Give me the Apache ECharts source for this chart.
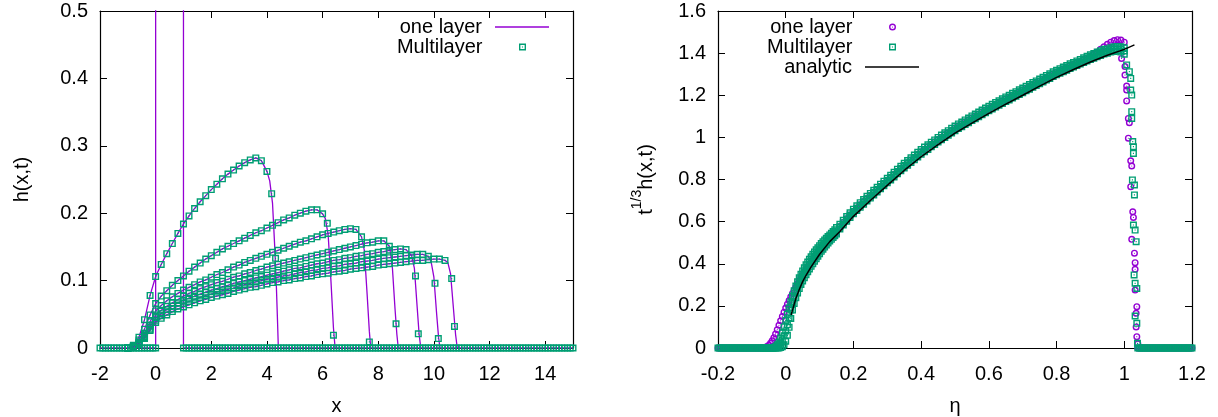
<!DOCTYPE html>
<html>
<head>
<meta charset="utf-8">
<script src="https://cdn.jsdelivr.net/npm/echarts@6/dist/echarts.min.js"></script>
<style>
  html, body { margin: 0; padding: 0; background: #fff; }
  #chart { width: 1218px; height: 417px; }
</style>
</head>
<body>
<div id="chart"></div>
<script>
// ---------------- Left panel: h(x,t) at successive times ----------------
// shared x positions of the profile samples
const xGrid = [-1,-0.8,-0.6,-0.4,-0.2,0,0.2,0.4,0.6,0.8,1,1.2,1.4,1.6,1.8,2,2.2,2.4,2.6,2.8,3,3.2,3.4,3.6,3.8,4,4.2,4.4,4.6,4.8,5,5.2,5.4,5.6,5.8,6,6.2,6.4,6.6,6.8,7,7.2,7.4,7.6,7.8,8,8.2,8.4,8.6,8.8,9,9.2,9.4,9.6,9.8,10,10.2,10.4,10.6];

// film height of each profile on xGrid (up to just behind its front)
const h1 = [0,0.004,0.016,0.042,0.078,0.106,0.124,0.140,0.155,0.170,0.184,0.196,0.207,0.217,0.226,0.235,0.243,0.251,0.258,0.264,0.270,0.275,0.279,0.282,0.278,0.262];
const h2 = [0,0.003,0.012,0.028,0.049,0.066,0.077,0.085,0.093,0.100,0.107,0.114,0.120,0.126,0.132,0.137,0.142,0.147,0.151,0.155,0.159,0.163,0.167,0.171,0.174,0.178,0.182,0.186,0.190,0.193,0.197,0.200,0.203,0.205,0.205,0.199];
const h3 = [0,0.002,0.009,0.022,0.039,0.055,0.063,0.070,0.076,0.081,0.086,0.090,0.094,0.098,0.101,0.105,0.109,0.112,0.116,0.120,0.123,0.127,0.130,0.133,0.136,0.139,0.142,0.145,0.148,0.151,0.154,0.157,0.159,0.162,0.165,0.168,0.170,0.172,0.174,0.176,0.177,0.176,0.165];
const h4 = [0,0.002,0.008,0.019,0.034,0.049,0.056,0.062,0.067,0.072,0.077,0.081,0.084,0.088,0.091,0.094,0.097,0.099,0.102,0.105,0.107,0.110,0.112,0.115,0.117,0.120,0.122,0.124,0.126,0.128,0.130,0.132,0.134,0.136,0.138,0.140,0.142,0.144,0.146,0.148,0.150,0.152,0.154,0.156,0.157,0.159,0.159,0.151];
const h5 = [0,0.002,0.007,0.017,0.031,0.045,0.051,0.057,0.062,0.067,0.071,0.074,0.077,0.080,0.083,0.086,0.088,0.091,0.093,0.096,0.098,0.100,0.102,0.104,0.106,0.108,0.110,0.112,0.114,0.116,0.118,0.119,0.121,0.123,0.125,0.126,0.128,0.130,0.131,0.133,0.134,0.136,0.137,0.139,0.140,0.142,0.143,0.145,0.146,0.147,0.146,0.137];
const h6 = [0,0.002,0.006,0.015,0.028,0.041,0.048,0.053,0.058,0.062,0.066,0.069,0.072,0.075,0.078,0.080,0.083,0.085,0.087,0.089,0.092,0.094,0.096,0.098,0.100,0.102,0.103,0.105,0.107,0.108,0.110,0.112,0.113,0.115,0.116,0.118,0.119,0.121,0.122,0.124,0.125,0.126,0.128,0.129,0.130,0.132,0.133,0.134,0.135,0.136,0.137,0.138,0.139,0.139,0.136];
const h7 = [0,0.001,0.005,0.014,0.026,0.038,0.044,0.049,0.054,0.058,0.061,0.064,0.067,0.070,0.072,0.075,0.077,0.079,0.081,0.084,0.086,0.088,0.090,0.091,0.093,0.095,0.097,0.098,0.100,0.101,0.103,0.104,0.106,0.107,0.109,0.110,0.111,0.113,0.114,0.115,0.117,0.118,0.119,0.120,0.121,0.123,0.124,0.125,0.126,0.127,0.128,0.129,0.130,0.130,0.131,0.132,0.132,0.130];

// steep fronts: one-layer solution (continuous line) and multilayer samples
const oneLayerFronts = [
  [[4.1,0.248],[4.2,0.215],[4.28,0.15],[4.34,0.09],[4.38,0.04],[4.41,0]],
  [[6.1,0.192],[6.2,0.168],[6.3,0.10],[6.39,0.03],[6.45,0]],
  [[7.5,0.145],[7.6,0.08],[7.68,0.025],[7.73,0]],
  [[8.5,0.125],[8.6,0.06],[8.67,0.02],[8.72,0]],
  [[9.3,0.118],[9.4,0.06],[9.47,0.02],[9.53,0]],
  [[9.9,0.128],[10.0,0.105],[10.1,0.05],[10.17,0.015],[10.22,0]],
  [[10.5,0.127],[10.6,0.11],[10.7,0.06],[10.78,0.02],[10.84,0]]
];
const multiFronts = [
  [[4.17,0.229],[4.31,0.133]],
  [[6.17,0.185],[6.39,0.019]],
  [[7.68,0.009]],
  [[8.64,0.036]],
  [[9.34,0.107],[9.44,0.021]],
  [[10.04,0.096],[10.16,0.014]],
  [[10.64,0.103],[10.74,0.032]]
];
// initial column (one layer) and dry-bed samples of the multilayer run
const initialColumn = [[-2,0],[0,0],[0,1],[1,1],[1,0],[15,0]];
const dryX = [-2,-1.9,-1.8,-1.7,-1.6,-1.5,-1.4,-1.3,-1.2,-1.1,-1,-0.9,-0.8,-0.7,-0.6,-0.5,-0.4,-0.3,-0.2,-0.1,0,
  1,1.1,1.2,1.3,1.4,1.5,1.6,1.7,1.8,1.9,2,2.1,2.2,2.3,2.4,2.5,2.6,2.7,2.8,2.9,3,3.1,3.2,3.3,3.4,3.5,3.6,3.7,3.8,3.9,
  4,4.1,4.2,4.3,4.4,4.5,4.6,4.7,4.8,4.9,5,5.1,5.2,5.3,5.4,5.5,5.6,5.7,5.8,5.9,6,6.1,6.2,6.3,6.4,6.5,6.6,6.7,6.8,6.9,
  7,7.1,7.2,7.3,7.4,7.5,7.6,7.7,7.8,7.9,8,8.1,8.2,8.3,8.4,8.5,8.6,8.7,8.8,8.9,9,9.1,9.2,9.3,9.4,9.5,9.6,9.7,9.8,9.9,
  10,10.1,10.2,10.3,10.4,10.5,10.6,10.7,10.8,10.9,11,11.1,11.2,11.3,11.4,11.5,11.6,11.7,11.8,11.9,12,12.1,12.2,12.3,12.4,12.5,12.6,12.7,12.8,12.9,
  13,13.1,13.2,13.3,13.4,13.5,13.6,13.7,13.8,13.9,14,14.1,14.2,14.3,14.4,14.5,14.6,14.7,14.8,14.9,15];

// ---------------- Right panel: rescaled profiles t^(1/3) h vs eta ----------------
const etaBand = [-0.065,-0.06,-0.055,-0.05,-0.045,-0.04,-0.035,-0.03,-0.025,-0.02,-0.015,-0.01,-0.005,0,0.005,0.01,0.015,0.02,0.025,0.03,0.035,0.04,0.045,0.05,0.055,0.06,0.065,0.07,0.075,0.08,0.085,0.09,0.095,0.1,0.105,0.11,0.115,0.12,0.125,0.13,0.135,0.14,0.145,0.15,
  0.16,0.17,0.18,0.19,0.2,0.21,0.22,0.23,0.24,0.25,0.26,0.27,0.28,0.29,0.3,0.31,0.32,0.33,0.34,0.35,0.36,0.37,0.38,0.39,0.4,0.41,0.42,0.43,0.44,0.45,0.46,0.47,0.48,0.49,0.5,0.51,0.52,0.53,0.54,0.55,0.56,0.57,0.58,0.59,0.6,0.61,0.62,0.63,0.64,0.65,0.66,0.67,0.68,0.69,0.7,0.71,0.72,0.73,0.74,0.75,0.76,0.77,0.78,0.79,0.8,0.81,0.82,0.83,0.84,0.85,0.86,0.87,0.88,0.89,0.9,0.91,0.92,0.93,0.94,0.95,0.96,0.97,0.98,0.99,1];
const oneLayerBand = [0,0.003,0.007,0.013,0.022,0.034,0.049,0.067,0.087,0.108,0.129,0.150,0.170,0.190,0.208,0.226,0.243,0.259,0.275,0.290,0.305,0.319,0.333,0.346,0.359,0.371,0.383,0.395,0.406,0.417,0.428,0.438,0.448,0.458,0.468,0.477,0.486,0.495,0.504,0.513,0.522,0.530,0.538,0.546,
  0.577,0.596,0.614,0.632,0.649,0.665,0.680,0.695,0.710,0.724,0.739,0.753,0.768,0.782,0.796,0.810,0.824,0.839,0.853,0.867,0.880,0.893,0.906,0.919,0.932,0.944,0.955,0.967,0.978,0.990,1.001,1.012,1.022,1.033,1.044,1.054,1.063,1.073,1.082,1.092,1.101,1.110,1.120,1.129,1.138,1.147,1.156,1.164,1.173,1.182,1.190,1.199,1.207,1.216,1.224,1.233,1.241,1.250,1.258,1.267,1.275,1.284,1.292,1.301,1.309,1.316,1.324,1.331,1.339,1.346,1.353,1.360,1.368,1.375,1.385,1.395,1.405,1.418,1.430,1.442,1.452,1.460,1.464,1.462,1.452];
// multilayer collapse: lower edge, body and upper edge of the band
const multiBandLow = [0,0,0,0,0,0,0,0,0,0,0.002,0.006,0.015,0.032,0.060,0.098,0.140,0.180,0.211,0.238,0.261,0.282,0.301,0.318,0.334,0.348,0.362,0.375,0.388,0.400,0.412,0.424,0.436,0.448,0.459,0.469,0.479,0.489,0.499,0.508,0.516,0.525,0.533,0.541,
  0.565,0.584,0.602,0.620,0.637,0.653,0.668,0.683,0.698,0.712,0.727,0.741,0.756,0.770,0.784,0.798,0.812,0.827,0.841,0.855,0.868,0.881,0.894,0.907,0.920,0.932,0.943,0.955,0.966,0.978,0.989,1.000,1.010,1.021,1.032,1.042,1.051,1.061,1.070,1.080,1.089,1.098,1.108,1.117,1.126,1.135,1.144,1.152,1.161,1.170,1.178,1.187,1.195,1.204,1.212,1.221,1.229,1.238,1.246,1.255,1.263,1.272,1.280,1.289,1.297,1.304,1.312,1.319,1.327,1.334,1.341,1.348,1.356,1.363,1.370,1.376,1.383,1.389,1.396,1.400,1.405,1.408,1.410,1.405,1.395];
const multiBandMid = [0,0,0,0,0,0,0.001,0.003,0.008,0.015,0.025,0.039,0.058,0.081,0.110,0.144,0.180,0.214,0.242,0.266,0.288,0.308,0.326,0.342,0.358,0.372,0.385,0.398,0.411,0.423,0.434,0.445,0.456,0.467,0.478,0.487,0.496,0.505,0.514,0.523,0.531,0.539,0.548,0.557,
  0.576,0.595,0.613,0.631,0.648,0.664,0.679,0.694,0.709,0.723,0.738,0.752,0.767,0.781,0.795,0.809,0.823,0.838,0.852,0.866,0.879,0.892,0.905,0.918,0.931,0.943,0.954,0.966,0.977,0.989,1.000,1.011,1.021,1.032,1.043,1.053,1.062,1.072,1.081,1.091,1.100,1.109,1.119,1.128,1.137,1.146,1.155,1.163,1.172,1.181,1.189,1.198,1.206,1.215,1.223,1.232,1.240,1.249,1.257,1.266,1.274,1.283,1.291,1.300,1.308,1.315,1.323,1.330,1.338,1.345,1.352,1.359,1.367,1.374,1.381,1.387,1.394,1.400,1.407,1.410,1.415,1.419,1.421,1.418,1.410];
const multiBandHigh = [0,0,0,0,0,0,0.002,0.006,0.015,0.029,0.048,0.072,0.100,0.130,0.160,0.190,0.220,0.247,0.272,0.294,0.314,0.333,0.350,0.366,0.381,0.395,0.408,0.421,0.433,0.445,0.456,0.466,0.476,0.486,0.496,0.505,0.513,0.521,0.529,0.537,0.545,0.553,0.562,0.572,
  0.587,0.606,0.624,0.642,0.659,0.675,0.690,0.705,0.720,0.734,0.749,0.763,0.778,0.792,0.806,0.820,0.834,0.849,0.863,0.877,0.890,0.903,0.916,0.929,0.942,0.954,0.965,0.977,0.988,1.000,1.011,1.022,1.032,1.043,1.054,1.064,1.073,1.083,1.092,1.102,1.111,1.120,1.130,1.139,1.148,1.157,1.166,1.174,1.183,1.192,1.200,1.209,1.217,1.226,1.234,1.243,1.251,1.260,1.268,1.277,1.285,1.294,1.302,1.311,1.319,1.326,1.334,1.341,1.349,1.356,1.363,1.370,1.378,1.385,1.392,1.398,1.405,1.411,1.418,1.420,1.425,1.430,1.432,1.430,1.425];
// collapse of the front region
const oneLayerFront = [[0.992,1.375],[1.002,1.336],[1.002,1.296],[1.007,1.244],[1.007,1.225],[1.007,1.173],[1.012,1.09],[1.015,1.07],[1.012,0.996],[1.019,0.889],[1.022,0.864],[1.019,0.766],[1.025,0.647],[1.027,0.62],[1.022,0.516],[1.03,0.45],[1.032,0.405],[1.032,0.374],[1.032,0.275],[1.037,0.196],[1.035,0.165],[1.035,0.10],[1.037,0.054],[1.04,0.02]];
const multiFront = [[1.007,1.344],[1.015,1.312],[1.019,1.28],[1.019,1.225],[1.022,1.201],[1.022,1.122],[1.022,1.09],[1.025,0.98],[1.027,0.956],[1.027,0.924],[1.024,0.798],[1.03,0.774],[1.03,0.727],[1.027,0.584],[1.032,0.56],[1.035,0.505],[1.029,0.347],[1.032,0.307],[1.037,0.283],[1.032,0.152],[1.037,0.117],[1.039,0.022]];
const dryEta = [-0.2,-0.195,-0.19,-0.185,-0.18,-0.175,-0.17,-0.165,-0.16,-0.155,-0.15,-0.145,-0.14,-0.135,-0.13,-0.125,-0.12,-0.115,-0.11,-0.105,-0.1,-0.095,-0.09,-0.085,-0.08,-0.075,-0.07,
  1.04,1.045,1.05,1.055,1.06,1.065,1.07,1.075,1.08,1.085,1.09,1.095,1.1,1.105,1.11,1.115,1.12,1.125,1.13,1.135,1.14,1.145,1.15,1.155,1.16,1.165,1.17,1.175,1.18,1.185,1.19,1.195,1.2];
// similarity solution
const analyticEta = [0.016,0.02,0.03,0.04,0.05,0.06,0.075,0.1,0.13,0.16,0.2,0.25,0.3,0.35,0.4,0.45,0.5,0.55,0.6,0.65,0.7,0.75,0.8,0.85,0.9,0.95,1.0,1.03];
const analyticF = [0.157,0.18,0.235,0.278,0.315,0.345,0.385,0.445,0.505,0.553,0.625,0.70,0.772,0.843,0.908,0.966,1.020,1.068,1.114,1.158,1.200,1.243,1.285,1.322,1.358,1.390,1.418,1.439];

// ---------------- styling ----------------
const FONT = "'Liberation Sans', Arial, Helvetica, sans-serif";
const PURPLE = '#9400d3';
const GREEN = '#009e73';
// hollow square / circle with a centre dot
const SQUARE = 'path://M0,0H10V10H0Z M2,2V8H8V2Z M4.2,4.2H5.8V5.8H4.2Z';
const CIRCLE = 'path://M5,0A5,5,0,1,1,5,10A5,5,0,1,1,5,0Z M5,2A3,3,0,1,0,5,8A3,3,0,1,0,5,2Z M5,4.2A0.8,0.8,0,1,1,5,5.8A0.8,0.8,0,1,1,5,4.2Z';

const pairs = (xs, ys) => ys.map((y, i) => [xs[i], y]);
const profiles = [h1, h2, h3, h4, h5, h6, h7];

const axisLine = { show: true, onZero: false, lineStyle: { color: '#000', width: 1.2 } };
const axisTick = { show: true, inside: true, length: 7, lineStyle: { color: '#000', width: 1 } };
const label = { show: true, fontSize: 20, color: '#000', fontFamily: FONT, margin: 12 };
const nameStyle = { fontSize: 20, color: '#000', fontFamily: FONT };

function axis(extra) {
  return Object.assign({
    type: 'value', axisLine, axisTick,
    splitLine: { show: false }, minorTick: { show: false }
  }, extra);
}

const xAxis = [
  axis({ gridIndex: 0, position: 'bottom', min: -2, max: 15, interval: 2,
    axisLabel: Object.assign({}, label, { margin: 16, showMaxLabel: false }),
    name: 'x', nameLocation: 'middle', nameGap: 48, nameTextStyle: nameStyle }),
  axis({ gridIndex: 0, position: 'top', min: -2, max: 15, interval: 2, axisLabel: { show: false } }),
  axis({ gridIndex: 1, position: 'bottom', min: -0.2, max: 1.2, interval: 0.2,
    axisLabel: Object.assign({}, label, { margin: 16 }),
    name: 'η', nameLocation: 'middle', nameGap: 48, nameTextStyle: nameStyle }),
  axis({ gridIndex: 1, position: 'top', min: -0.2, max: 1.2, interval: 0.2, axisLabel: { show: false } })
];
const yAxis = [
  axis({ gridIndex: 0, position: 'left', min: 0, max: 0.5, interval: 0.1, axisLabel: label,
    name: 'h(x,t)', nameLocation: 'middle', nameRotate: 90, nameGap: 68, nameTextStyle: nameStyle }),
  axis({ gridIndex: 0, position: 'right', min: 0, max: 0.5, interval: 0.1, axisLabel: { show: false } }),
  axis({ gridIndex: 1, position: 'left', min: 0, max: 1.6, interval: 0.2, axisLabel: label,
    name: '{b|t}{s|1/3}{b|h(x,t)}', nameLocation: 'middle', nameRotate: 90, nameGap: 62,
    nameTextStyle: Object.assign({}, nameStyle, { rich: {
      b: { fontSize: 20, fontFamily: FONT, color: '#000', verticalAlign: 'bottom', lineHeight: 26 },
      s: { fontSize: 14, fontFamily: FONT, color: '#000', verticalAlign: 'top', lineHeight: 26 }
    } }) }),
  axis({ gridIndex: 1, position: 'right', min: 0, max: 1.6, interval: 0.2, axisLabel: { show: false } })
];

const series = [];
// left panel: one-layer solution as lines
series.push({ name: 'one layer', type: 'line', xAxisIndex: 0, yAxisIndex: 0, data: initialColumn,
  symbol: 'none', lineStyle: { color: PURPLE, width: 1.3 }, itemStyle: { color: PURPLE }, clip: true, z: 2 });
profiles.forEach((h, k) => {
  series.push({ name: 'one layer', type: 'line', xAxisIndex: 0, yAxisIndex: 0,
    data: pairs(xGrid, h).concat(oneLayerFronts[k]),
    symbol: 'none', lineStyle: { color: PURPLE, width: 1.3 }, itemStyle: { color: PURPLE }, clip: true, z: 2 });
});
// left panel: multilayer samples
let leftMulti = dryX.map(x => [x, 0]);
profiles.forEach((h, k) => { leftMulti = leftMulti.concat(pairs(xGrid, h), multiFronts[k]); });
series.push({ name: 'Multilayer', type: 'scatter', xAxisIndex: 0, yAxisIndex: 0, data: leftMulti,
  symbol: SQUARE, symbolSize: 7, itemStyle: { color: GREEN, opacity: 1 }, clip: false, z: 3 });

// right panel
series.push({ name: 'one layer', type: 'scatter', xAxisIndex: 2, yAxisIndex: 2,
  data: dryEta.map(e => [e, 0]).concat(pairs(etaBand, oneLayerBand), oneLayerFront),
  symbol: CIRCLE, symbolSize: 7, itemStyle: { color: PURPLE, opacity: 1 }, clip: false, z: 2 });
series.push({ name: 'Multilayer', type: 'scatter', xAxisIndex: 2, yAxisIndex: 2,
  data: dryEta.map(e => [e, 0]).concat(pairs(etaBand, multiBandLow), pairs(etaBand, multiBandMid),
    pairs(etaBand, multiBandHigh), multiFront),
  symbol: SQUARE, symbolSize: 7, itemStyle: { color: GREEN, opacity: 1 }, clip: false, z: 3 });
series.push({ name: 'analytic', type: 'line', xAxisIndex: 2, yAxisIndex: 2, data: pairs(analyticEta, analyticF),
  symbol: 'none', lineStyle: { color: '#000', width: 1.5 }, itemStyle: { color: '#000' }, clip: true, z: 4 });

// one legend row per entry: text on the left, key on the right
function legendRow(name, icon, right, top, h) {
  return {
    data: [{ name, icon }], right, top, orient: 'horizontal', align: 'right', padding: 0,
    itemWidth: 54, itemHeight: h, selectedMode: false,
    itemStyle: { borderWidth: 0 },
    textStyle: { fontSize: 20, color: '#000', fontFamily: FONT, padding: [0, 8, 0, 0] }
  };
}

const chart = echarts.init(document.getElementById('chart'), null, { renderer: 'canvas' });
chart.setOption({
  animation: false,
  backgroundColor: '#fff',
  textStyle: { fontFamily: FONT },
  grid: [
    { left: 100, right: 645, top: 11, bottom: 69, containLabel: false, outerBoundsMode: 'none' },
    { left: 718, right: 26, top: 11, bottom: 69, containLabel: false, outerBoundsMode: 'none' }
  ],
  legend: [
    legendRow('one layer', 'rect', 669, 17, 1.3),
    legendRow('Multilayer', SQUARE, 692, 37, 7),
    legendRow('one layer', CIRCLE, 322, 17, 7),
    legendRow('Multilayer', SQUARE, 322, 37, 7),
    legendRow('analytic', 'rect', 299, 57, 1.3)
  ],
  xAxis, yAxis, series
});
</script>
</body>
</html>
